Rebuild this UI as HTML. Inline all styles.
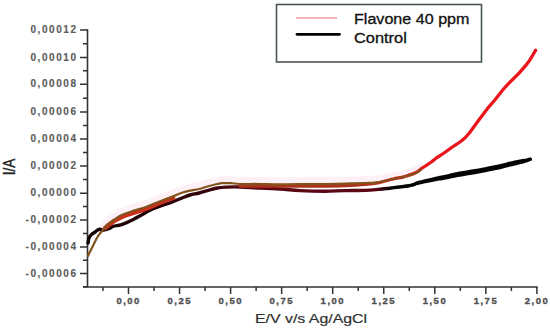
<!DOCTYPE html>
<html><head><meta charset="utf-8"><style>
html,body{margin:0;padding:0;background:#fff;width:550px;height:328px;overflow:hidden;}
body{position:relative;font-family:"Liberation Sans",sans-serif;}
svg{position:absolute;left:0;top:0;}
.yl{position:absolute;right:472.5px;font-weight:bold;font-size:10px;letter-spacing:1.55px;color:#5c5c5c;-webkit-text-stroke:0.15px #5c5c5c;line-height:12px;height:12px;white-space:nowrap;}
.xl{position:absolute;top:294.8px;width:60px;text-align:center;font-weight:bold;font-size:9.5px;letter-spacing:1.5px;text-indent:1.5px;color:#505050;-webkit-text-stroke:0.35px #505050;line-height:12px;white-space:nowrap;}
.lg{position:absolute;left:354px;font-size:14px;color:#111;-webkit-text-stroke:0.3px #111;line-height:16px;white-space:nowrap;transform-origin:left center;}
.xt{position:absolute;left:255px;top:312px;font-size:12.5px;color:#303030;-webkit-text-stroke:0.2px #303030;line-height:15px;white-space:nowrap;transform:scaleX(1.27);transform-origin:left center;}
.yt{position:absolute;left:-2.5px;top:159px;font-size:13.5px;color:#222;-webkit-text-stroke:0.3px #222;line-height:16px;width:24px;text-align:center;white-space:nowrap;transform:scaleX(1.2) rotate(-90deg);transform-origin:center;}
</style></head><body>
<svg width="550" height="328" viewBox="0 0 550 328">
<rect x="276.5" y="4.5" width="205" height="57.5" fill="none" stroke="#4a5654" stroke-width="1.6"/>
<line x1="296" y1="18" x2="337" y2="18" stroke="#e86878" stroke-width="1"/>
<line x1="297" y1="34.3" x2="339.5" y2="34.3" stroke="#000" stroke-width="2.7" stroke-linecap="round"/>
<path d="M80.0,30.00H87.5M83.0,43.70H87.5M80.0,57.40H87.5M83.0,70.85H87.5M80.0,84.30H87.5M83.0,98.15H87.5M80.0,112.00H87.5M83.0,125.53H87.5M80.0,139.05H87.5M83.0,152.55H87.5M80.0,166.05H87.5M83.0,179.62H87.5M80.0,193.20H87.5M83.0,206.60H87.5M80.0,220.00H87.5M83.0,233.45H87.5M80.0,246.90H87.5M83.0,260.15H87.5M80.0,273.40H87.5M83.0,286.80H87.5M102.97,287V291.0M128.50,287V294.0M154.03,287V291.0M179.55,287V294.0M205.07,287V291.0M230.60,287V294.0M256.12,287V291.0M281.65,287V294.0M307.17,287V291.0M332.70,287V294.0M358.23,287V291.0M383.75,287V294.0M409.27,287V291.0M434.80,287V294.0M460.32,287V291.0M485.85,287V294.0M511.38,287V291.0M536.90,287V294.0" stroke="#333" stroke-width="1.5" fill="none"/>
<path d="M87.5,29.2V287.5M83,287H537.7" stroke="#333" stroke-width="1.6" fill="none"/>
<defs>
<linearGradient id="gr" gradientUnits="userSpaceOnUse" x1="88" y1="0" x2="537" y2="0">
<stop offset="0" stop-color="#c8321a"/>
<stop offset="0.1381" stop-color="#cc2e1a"/>
<stop offset="0.3385" stop-color="#a8321a"/>
<stop offset="0.6392" stop-color="#b0321a"/>
<stop offset="0.6615" stop-color="#e21a1a"/>
<stop offset="0.7394" stop-color="#e8161c"/>
<stop offset="1" stop-color="#ec141c"/>
</linearGradient>
<linearGradient id="gb" gradientUnits="userSpaceOnUse" x1="88" y1="0" x2="537" y2="0">
<stop offset="0" stop-color="#100404"/>
<stop offset="0.0490" stop-color="#1a0406"/>
<stop offset="0.2494" stop-color="#30040c"/>
<stop offset="0.3608" stop-color="#5a0614"/>
<stop offset="0.6392" stop-color="#5a0614"/>
<stop offset="0.6726" stop-color="#080404"/>
<stop offset="1" stop-color="#050505"/>
</linearGradient>
</defs>
<path d="M102.3,226.7 C102.9,225.9 104.8,223.3 106.0,222.0 C107.2,220.7 108.3,219.9 109.7,218.8 C111.1,217.7 112.7,216.7 114.5,215.5 C116.3,214.3 117.9,212.8 120.7,211.5 C123.5,210.2 127.8,208.7 131.3,207.5 C134.9,206.3 138.9,205.3 142.0,204.3 C145.1,203.3 146.9,202.5 150.0,201.3 C153.1,200.1 157.1,198.4 160.7,197.0 C164.2,195.6 167.8,194.4 171.3,193.0 C174.9,191.6 178.9,189.9 182.0,188.8 C185.1,187.7 187.2,187.2 190.0,186.6 C192.8,186.0 196.0,185.7 199.1,185.0 C202.2,184.3 205.2,183.1 208.3,182.3 C211.4,181.5 215.1,180.5 217.4,180.0 C219.7,179.5 219.7,179.3 222.0,179.2 C224.3,179.1 228.1,179.1 231.1,179.2 C234.1,179.3 235.2,179.9 240.0,180.0 C244.8,180.1 253.3,179.9 260.0,180.0 C266.7,180.1 273.3,180.3 280.0,180.3 C286.7,180.3 292.5,180.2 300.0,180.2 C307.5,180.1 317.5,180.1 325.0,180.0 C332.5,179.9 338.3,179.8 345.0,179.6 C351.7,179.4 359.5,179.2 365.0,179.0 C370.5,178.8 373.3,179.0 378.0,178.3 C382.7,177.6 389.2,175.8 393.2,175.0 C397.2,174.2 399.5,173.9 402.0,173.3 C404.5,172.7 405.7,172.2 408.0,171.5 C410.3,170.8 413.8,170.0 416.0,169.0 C418.2,168.0 420.2,166.1 421.0,165.5" stroke="#fbe3ef" stroke-width="6" fill="none" stroke-linecap="round" stroke-linejoin="round" opacity="0.5"/>
<path d="M88.0,243.0 C88.2,242.2 88.5,239.4 89.0,238.0 C89.5,236.6 90.3,235.6 91.3,234.6 C92.3,233.6 93.9,232.9 95.0,232.1 C96.1,231.3 96.9,230.5 97.7,230.0 C98.5,229.5 99.2,229.1 100.0,229.2 C100.8,229.2 101.6,230.2 102.5,230.3 C103.4,230.4 104.3,229.9 105.5,229.6 C106.7,229.3 108.4,228.9 109.7,228.3 C111.0,227.8 111.4,226.9 113.2,226.3 C115.0,225.7 118.2,225.5 120.7,224.8 C123.2,224.1 125.7,223.0 128.0,222.0 C130.3,221.0 132.2,220.0 134.5,218.8 C136.8,217.6 139.4,216.1 142.0,214.7 C144.6,213.3 146.9,211.6 150.0,210.2 C153.1,208.8 157.1,207.3 160.7,206.0 C164.2,204.7 167.8,203.7 171.3,202.4 C174.9,201.1 178.9,199.2 182.0,198.0 C185.1,196.8 187.2,195.8 190.0,195.0 C192.8,194.2 196.0,193.8 199.1,193.0 C202.2,192.2 205.2,191.2 208.3,190.4 C211.4,189.6 214.4,188.6 217.4,188.0 C220.4,187.4 222.8,187.3 226.6,187.1 C230.4,186.9 234.4,186.8 240.0,187.0 C245.6,187.2 253.3,187.7 260.0,188.0 C266.7,188.3 273.3,188.6 280.0,189.0 C286.7,189.4 292.5,190.2 300.0,190.6 C307.5,191.0 317.5,191.2 325.0,191.2 C332.5,191.2 338.3,190.7 345.0,190.6 C351.7,190.5 359.5,190.6 365.0,190.4 C370.5,190.2 373.9,189.8 378.0,189.4 C382.1,189.0 386.2,188.5 389.4,188.2 C392.6,187.8 394.3,187.6 397.0,187.3 C399.7,187.0 402.9,186.6 405.5,186.2 C408.1,185.8 410.4,185.4 412.5,184.8 C414.6,184.2 416.0,183.2 418.1,182.6 C420.2,182.0 422.4,181.6 425.0,181.0 C427.6,180.4 431.6,179.4 434.0,178.8 C436.4,178.2 436.7,178.2 439.1,177.7 C441.5,177.2 445.2,176.5 448.3,175.8 C451.4,175.1 454.3,174.3 457.4,173.7 C460.4,173.1 463.7,172.7 466.6,172.2 C469.5,171.7 472.4,171.2 475.0,170.8 C477.6,170.4 479.4,170.0 482.0,169.5 C484.6,169.0 487.6,168.3 490.9,167.6 C494.2,166.9 498.2,166.1 501.8,165.3 C505.4,164.5 509.4,163.4 512.7,162.7 C516.0,161.9 519.2,161.2 521.4,160.8 C523.6,160.4 524.5,160.7 526.0,160.4 C527.5,160.1 529.5,159.4 530.2,159.2" stroke="url(#gb)" stroke-width="3.4" fill="none" stroke-linecap="round" stroke-linejoin="round"/>
<path d="M405.5,186.2 C406.7,186.0 410.4,185.6 412.5,185.1 C414.6,184.6 416.0,183.7 418.1,183.2 C420.2,182.6 422.4,182.4 425.0,181.8 C427.6,181.3 431.6,180.5 434.0,180.0 C436.4,179.6 436.7,179.5 439.1,179.1 C441.5,178.7 445.2,178.2 448.3,177.6 C451.4,177.0 454.3,176.2 457.4,175.6 C460.4,175.0 463.7,174.6 466.6,174.1 C469.5,173.6 472.4,173.2 475.0,172.7 C477.6,172.3 479.4,171.9 482.0,171.4 C484.6,170.9 487.6,170.2 490.9,169.5 C494.2,168.8 498.2,168.0 501.8,167.2 C505.4,166.4 509.4,165.4 512.7,164.6 C516.0,163.8 519.2,162.9 521.4,162.3 C523.6,161.8 524.5,161.7 526.0,161.2 C527.5,160.7 529.5,159.6 530.2,159.3" stroke="#050505" stroke-width="3" fill="none" stroke-linecap="round" stroke-linejoin="round"/>
<path d="M104.0,229.0 C105.0,228.2 107.8,225.6 109.7,224.2 C111.6,222.8 112.6,221.8 115.3,220.3 C118.0,218.8 122.4,216.6 126.0,215.2 C129.6,213.8 133.1,213.2 136.7,212.0 C140.2,210.8 144.2,209.4 147.3,208.2 C150.4,207.0 152.1,206.2 155.0,205.0 C157.9,203.8 161.7,202.3 165.0,201.0 C168.3,199.7 173.3,197.8 175.0,197.2" stroke="url(#gr)" stroke-width="4.4" fill="none" stroke-linecap="butt" stroke-linejoin="round"/>
<path d="M240.0,186.0 C246.7,186.0 266.7,186.2 280.0,186.2 C293.3,186.2 309.2,186.1 320.0,186.0 C330.8,185.9 337.5,185.8 345.0,185.5 C352.5,185.2 359.5,184.8 365.0,184.3 C370.5,183.9 373.3,183.7 378.0,182.8 C382.7,181.9 389.2,179.9 393.2,179.0 C397.2,178.1 399.5,177.9 402.0,177.3 C404.5,176.7 405.7,176.3 408.0,175.5 C410.3,174.7 413.6,173.8 416.0,172.5 C418.4,171.2 419.7,169.8 422.3,168.0 C424.9,166.2 428.9,163.8 431.4,162.0 C433.9,160.2 435.1,158.9 437.2,157.4 C439.3,155.9 441.4,154.8 444.0,153.0 C446.6,151.2 450.1,148.6 453.1,146.5 C456.2,144.4 459.7,142.4 462.3,140.3 C464.9,138.2 466.5,136.4 468.5,134.0 C470.5,131.6 472.3,128.9 474.5,126.0 C476.7,123.1 479.2,119.6 481.5,116.5 C483.8,113.4 486.2,110.2 488.3,107.5 C490.4,104.8 491.9,103.5 494.4,100.5 C496.9,97.5 500.5,92.7 503.4,89.3 C506.3,85.9 509.0,83.2 511.8,80.3 C514.6,77.4 517.4,74.9 520.2,71.8 C523.0,68.7 526.1,65.4 528.6,61.8 C531.1,58.2 534.4,52.2 535.5,50.3" stroke="url(#gr)" stroke-width="3.3" fill="none" stroke-linecap="round" stroke-linejoin="round"/>
<path d="M87.9,256.0 C88.3,255.2 89.5,252.7 90.4,250.9 C91.3,249.1 92.2,247.2 93.1,245.4 C94.0,243.6 95.0,241.6 95.9,239.9 C96.8,238.2 97.5,236.8 98.6,235.3 C99.7,233.8 101.1,232.2 102.3,230.7 C103.5,229.1 104.8,227.3 106.0,226.0 C107.2,224.7 108.3,223.9 109.7,222.8 C111.1,221.7 112.7,220.7 114.5,219.5 C116.3,218.3 117.9,216.8 120.7,215.5 C123.5,214.2 127.8,212.7 131.3,211.5 C134.9,210.3 138.9,209.3 142.0,208.3 C145.1,207.3 146.9,206.5 150.0,205.3 C153.1,204.1 157.1,202.4 160.7,201.0 C164.2,199.6 167.8,198.4 171.3,197.0 C174.9,195.6 178.9,193.9 182.0,192.8 C185.1,191.7 187.2,191.2 190.0,190.6 C192.8,190.0 196.0,189.7 199.1,189.0 C202.2,188.3 205.2,187.1 208.3,186.3 C211.4,185.5 215.1,184.5 217.4,184.0 C219.7,183.5 219.7,183.3 222.0,183.2 C224.3,183.1 228.1,183.1 231.1,183.2 C234.1,183.3 235.2,183.9 240.0,184.0 C244.8,184.1 253.3,183.9 260.0,184.0 C266.7,184.1 273.3,184.3 280.0,184.3 C286.7,184.3 292.5,184.2 300.0,184.2 C307.5,184.1 317.5,184.1 325.0,184.0 C332.5,183.9 338.3,183.8 345.0,183.6 C351.7,183.4 359.5,183.2 365.0,183.0 C370.5,182.8 373.3,183.0 378.0,182.3 C382.7,181.6 389.2,179.8 393.2,179.0 C397.2,178.2 399.5,177.9 402.0,177.3 C404.5,176.7 405.7,176.2 408.0,175.5 C410.3,174.8 413.8,174.0 416.0,173.0 C418.2,172.0 420.2,170.1 421.0,169.5" stroke="#83521c" stroke-width="2.2" fill="none" stroke-linecap="round" stroke-linejoin="round"/>
</svg>
<div class="yl" style="top:24.1px">0,00012</div>
<div class="yl" style="top:51.5px">0,00010</div>
<div class="yl" style="top:78.4px">0,00008</div>
<div class="yl" style="top:106.1px">0,00006</div>
<div class="yl" style="top:133.2px">0,00004</div>
<div class="yl" style="top:160.2px">0,00002</div>
<div class="yl" style="top:187.3px">0,00000</div>
<div class="yl" style="top:214.1px">-0,00002</div>
<div class="yl" style="top:241.0px">-0,00004</div>
<div class="yl" style="top:267.5px">-0,00006</div>
<div class="xl" style="left:97.9px">0,00</div>
<div class="xl" style="left:149.0px">0,25</div>
<div class="xl" style="left:200.0px">0,50</div>
<div class="xl" style="left:251.0px">0,75</div>
<div class="xl" style="left:302.1px">1,00</div>
<div class="xl" style="left:353.1px">1,25</div>
<div class="xl" style="left:404.2px">1,50</div>
<div class="xl" style="left:455.2px">1,75</div>
<div class="xl" style="left:506.3px">2,00</div>
<div class="lg" style="top:11px;transform:scaleX(1.15)">Flavone 40 ppm</div>
<div class="lg" style="top:29.5px;transform:scaleX(1.17)">Control</div>
<div class="xt">E/V v/s Ag/AgCl</div>
<div class="yt">I/A</div>
</body></html>
